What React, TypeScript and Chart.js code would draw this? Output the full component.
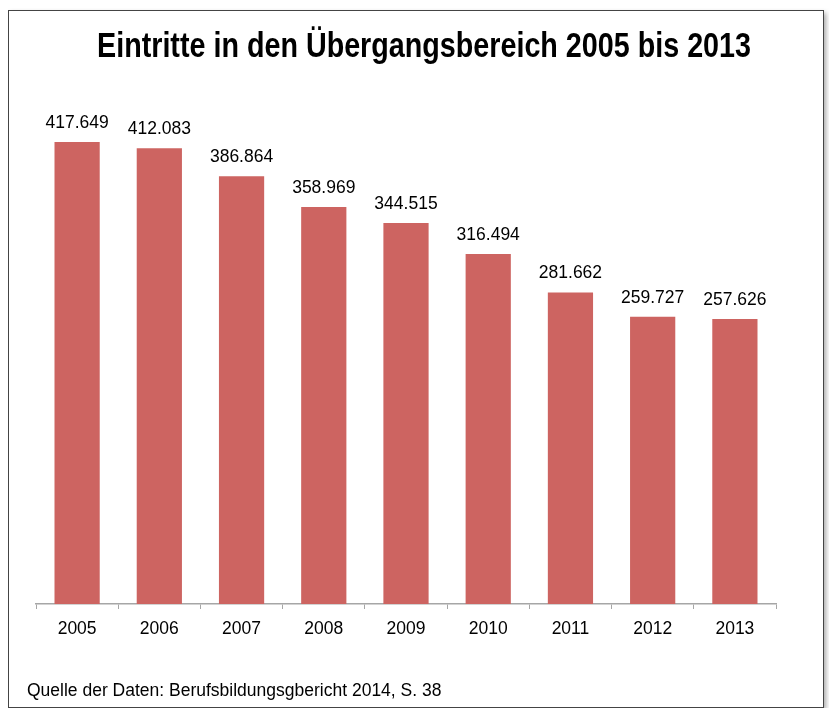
import React, { useEffect, useRef } from "react";
import { Chart, registerables } from "chart.js";

Chart.register(...registerables);

const titleText = "Eintritte in den Übergangsbereich 2005 bis 2013";
const sourceText = "Quelle der Daten: Berufsbildungsgbericht 2014, S. 38";
const years = ["2005", "2006", "2007", "2008", "2009", "2010", "2011", "2012", "2013"];
const entries = [417649, 412083, 386864, 358969, 344515, 316494, 281662, 259727, 257626];

const BAR_COLOR = "rgb(205,100,97)";
const FONT = "'Liberation Sans', Arial, Helvetica, sans-serif";

function formatDe(v: number): string {
  const s = Math.round(v).toString();
  return s.replace(/\B(?=(\d{3})+(?!\d))/g, ".");
}

const decorPlugin = {
  id: "decor",
  afterDatasetsDraw(chart: any) {
    const ctx = chart.ctx;
    ctx.save();
    // data labels
    ctx.fillStyle = "#000";
    ctx.font = `17.5px ${FONT}`;
    ctx.textAlign = "center";
    ctx.textBaseline = "alphabetic";
    const meta = chart.getDatasetMeta(0);
    meta.data.forEach((bar: any, i: number) => {
      ctx.fillText(formatDe(entries[i]), bar.x, bar.y - 14);
    });
    // title (condensed look)
    ctx.save();
    ctx.translate(415, 46);
    ctx.scale(0.82, 1);
    ctx.font = `bold 35px ${FONT}`;
    ctx.fillText(titleText, 0, 0);
    ctx.restore();
    // source
    ctx.font = `17.5px ${FONT}`;
    ctx.textAlign = "left";
    ctx.fillText(sourceText, 18, 685);
    ctx.restore();
  },
};

export default function App() {
  const ref = useRef<HTMLCanvasElement | null>(null);
  useEffect(() => {
    if (!ref.current) return;
    const chart = new Chart(ref.current, {
      type: "bar",
      data: {
        labels: years,
        datasets: [
          {
            data: entries,
            backgroundColor: BAR_COLOR,
            borderWidth: 0,
            categoryPercentage: 1,
            barPercentage: 0.55,
          },
        ],
      },
      options: {
        responsive: false,
        animation: false,
        layout: { padding: { top: 40, left: 27, right: 47, bottom: 57 } },
        plugins: {
          legend: { display: false },
          title: { display: false },
          tooltip: { enabled: false },
        },
        scales: {
          y: { display: false, min: 0, max: 500000 },
          x: {
            grid: {
              drawOnChartArea: false,
              drawTicks: true,
              tickLength: 5,
              color: "#a6a6a6",
              offset: true,
            },
            border: { display: true, color: "#a6a6a6", width: 1.5 },
            ticks: {
              color: "#000",
              padding: 10,
              font: { family: FONT, size: 17.5 },
            },
          },
        },
      },
      plugins: [decorPlugin],
    });
    return () => chart.destroy();
  }, []);
  return (
    <div
      style={{
        marginTop: 2,
        width: 814,
        height: 696,
        border: "1px solid #444",
        boxShadow: "2px 3px 5px rgba(0,0,0,0.35)",
        background: "#fff",
      }}
    >
      <canvas ref={ref} width={814} height={696} style={{ display: "block" }} />
    </div>
  );
}
